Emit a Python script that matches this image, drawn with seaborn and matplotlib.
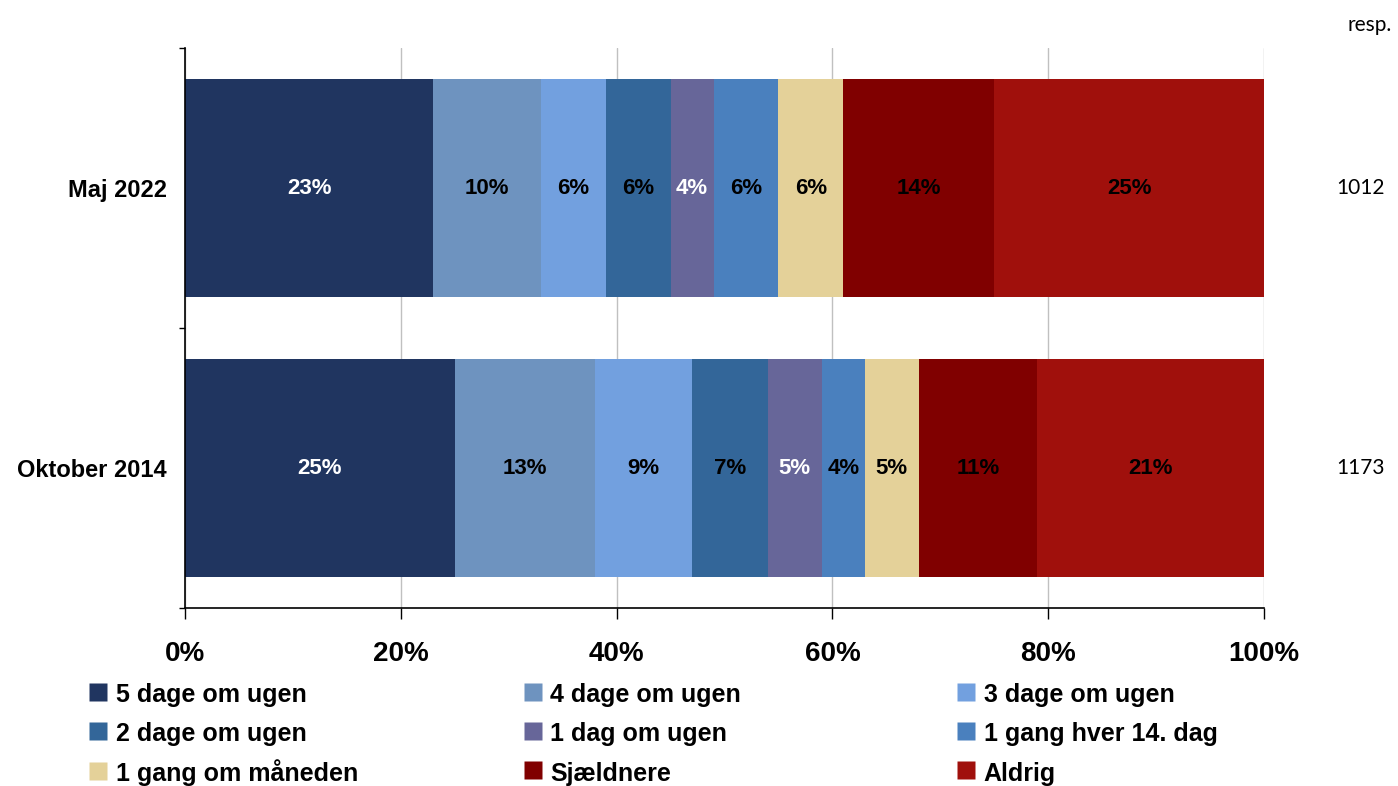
import matplotlib.pyplot as plt
import matplotlib.transforms as mtransforms
from matplotlib.lines import Line2D
import numpy as np
import pandas as pd
import seaborn as sb

periods = ["Maj 2022", "Oktober 2014"]
respondents = [1012, 1173]
answers = ["5 dage om ugen", "4 dage om ugen", "3 dage om ugen", "2 dage om ugen",
           "1 dag om ugen", "1 gang hver 14. dag", "1 gang om måneden", "Sjældnere", "Aldrig"]
maj_2022 = [23, 10, 6, 6, 4, 6, 6, 14, 25]
okt_2014 = [25, 13, 9, 7, 5, 4, 5, 11, 21]
colours = ["#203560", "#6E93BF", "#72A0DF", "#336699", "#676699",
           "#4A80BE", "#E4D199", "#800000", "#A0100C"]
label_white = [True, False, False, False, True, False, False, False, False]

sb.set_style("white")
plt.rcParams['font.family'] = ['Liberation Sans', 'DejaVu Sans']
plt.rcParams['text.color'] = 'black'
plt.rcParams['xtick.color'] = 'black'
plt.rcParams['ytick.color'] = 'black'

values = np.array([maj_2022, okt_2014])
cum = values.cumsum(axis=1)

fig = plt.figure(figsize=(13.98, 7.86), dpi=100)
ax = fig.add_axes([185 / 1398, 1 - 608 / 786, (1264 - 185) / 1398, 560 / 786])

# stacked bars: draw cumulative totals from the right, each one on top of the last
for i in reversed(range(len(answers))):
    df = pd.DataFrame({"period": periods, "cum": cum[:, i]})
    sb.barplot(data=df, x="cum", y="period", orient="h", color=colours[i],
               width=0.78, saturation=1, linewidth=0, edgecolor="none", ax=ax, zorder=2)

for r in range(len(periods)):
    for i in range(len(answers)):
        v = values[r, i]
        ax.text(cum[r, i] - v / 2, r, f"{v}%", ha="center", va="center",
                fontsize=16, fontweight="bold",
                color="white" if label_white[i] else "black", zorder=3)

ax.set_xlim(0, 100)
ax.set_ylim(1.5, -0.5)
ax.set_xticks(range(0, 101, 20))
ax.set_xticklabels([f"{t}%" for t in range(0, 101, 20)], fontsize=20, fontweight="bold")
ax.tick_params(axis="x", bottom=True, direction="out", length=8, width=1, color="black", pad=16)
ax.set_yticks(range(len(periods)))
ax.set_yticklabels(periods, fontsize=17, fontweight="bold")
ax.tick_params(axis="y", length=0, pad=13)
ax.set_yticks([-0.5, 0.5, 1.5], minor=True)
ax.tick_params(axis="y", which="minor", left=True, direction="out", length=4, width=1, color="black")
ax.grid(axis="x", color="#C0C0C0", linewidth=1)
ax.set_axisbelow(True)
ax.set_xlabel("")
ax.set_ylabel("")
for side in ["top", "right"]:
    ax.spines[side].set_visible(False)
for side in ["left", "bottom"]:
    ax.spines[side].set_color("black")
    ax.spines[side].set_linewidth(1.2)

# respondent counts on the right
trans = mtransforms.blended_transform_factory(fig.transFigure, ax.transData)
for r, n in enumerate(respondents):
    ax.text(1385 / 1398, r, str(n), transform=trans, ha="right", va="center",
            fontsize=15, family="Lato")
fig.text(1392 / 1398, 1 - 25 / 786, "resp.", ha="right", va="center",
         fontsize=15, family="Lato")

# legend laid out row by row in three columns
handles = [Line2D([], [], marker="s", markersize=13, linestyle="none",
                  markerfacecolor=c, markeredgecolor="none") for c in colours]
col_x = [88 / 1398, 523 / 1398, 956 / 1398]
for c in range(3):
    idx = [c, c + 3, c + 6]
    fig.legend([handles[i] for i in idx], [answers[i] for i in idx],
               loc="upper left", bbox_to_anchor=(col_x[c], 1 - 681 / 786),
               ncol=1, frameon=False, borderpad=0, borderaxespad=0,
               handlelength=0.8, handleheight=1.2, handletextpad=0.3,
               labelspacing=0.52, prop={"size": 18, "weight": "bold"})

fig.savefig("out.png", dpi=100)
